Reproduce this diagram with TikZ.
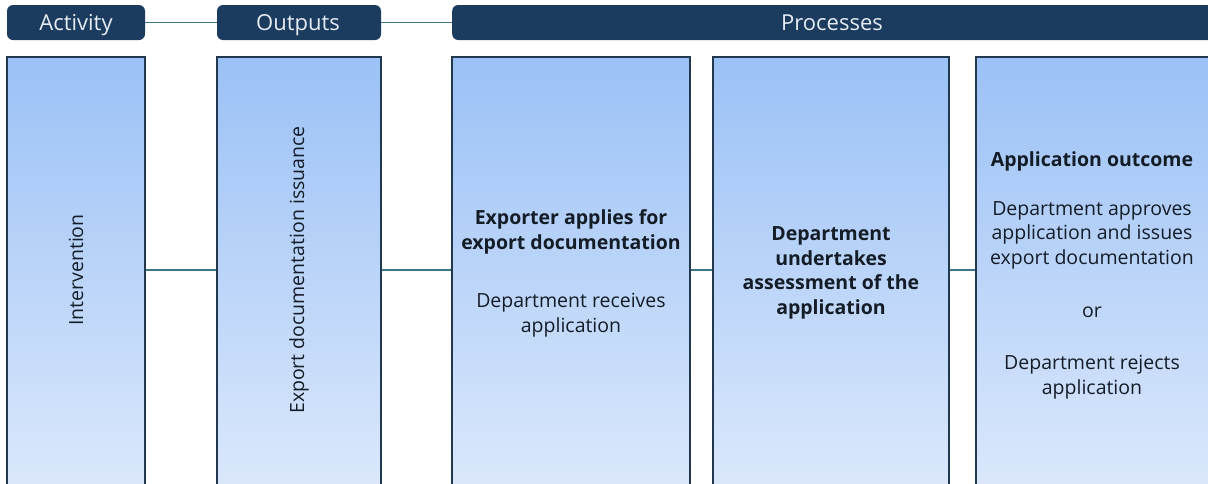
\documentclass[tikz,border=0pt]{standalone}
\usepackage{fontspec}
\setmainfont{Open Sans}
\begin{document}
\begin{tikzpicture}[x=1pt,y=-1pt,
  hdr/.style={draw=none,fill=navy,rounded corners=6pt,minimum height=35pt,inner sep=0pt},
  hdrlabel/.style={anchor=base,inner sep=0pt,text=hdrtext,font=\fontsize{22}{26}\selectfont},
  col/.style={draw=border,line width=1.5pt,top color=boxtop,bottom color=boxbot,minimum height=480pt,inner sep=0pt},
  coltext/.style={align=center,inner sep=0pt,text=txt,font=\fontsize{19.5}{24.7}\selectfont},
  link/.style={draw=linkc,line width=1.6pt}]
\definecolor{navy}{HTML}{1B3C5E}
\definecolor{hdrtext}{HTML}{E6ECF3}
\definecolor{border}{HTML}{22384E}
\definecolor{boxtop}{HTML}{9BC1F6}
\definecolor{boxbot}{HTML}{E2ECFC}
\definecolor{txt}{HTML}{141C26}
\definecolor{linkc}{HTML}{3C7686}
\useasboundingbox (0,0) rectangle (1208,483);
\clip (0,0) rectangle (1208,483);
% headers
\node[hdr,minimum width=138pt] (act) at (76,22.5) {};
\node[hdrlabel] (acttxt) at (76,30) {Activity};
\node[hdr,minimum width=164pt] (out) at (299,22.5) {};
\node[hdrlabel] (outtxt) at (298,30) {Outputs};
\node[hdr,minimum width=800pt,anchor=west] (proc) at (452,22.5) {};
\node[hdrlabel] (proctxt) at (832,30) {Processes};
\draw[link] (act.east) -- (out.west);
\draw[link] (out.east) -- (proc.west);
% columns (top at 56, running off the bottom)
\node[col,minimum width=138pt,anchor=north] (c1) at (76,56) {};
\node[coltext,rotate=90] (t1) at (76,270) {Intervention};
\node[col,minimum width=164pt,anchor=north] (c2) at (299,56) {};
\node[coltext,rotate=90] (t2) at (299,270) {Export documentation issuance};
\node[col,minimum width=238pt,anchor=north] (c3) at (571,56) {};
\node[coltext] (t3) at (571,273.5) {\textbf{Exporter applies for}\\\textbf{export documentation}\\[34pt]Department receives\\application};
\node[col,minimum width=236pt,anchor=north] (c4) at (831,56) {};
\node[coltext] (t4) at (831,273) {\textbf{Department}\\\textbf{undertakes}\\\textbf{assessment of the}\\\textbf{application}};
\node[col,minimum width=238pt,anchor=north west] (c5) at (975,56) {};
\node[coltext] (t5) at (1092,275.5) {\textbf{Application outcome}\\[23.5pt]Department approves\\application and issues\\export documentation\\[28pt]or\\[27.5pt]Department rejects\\application};
\coordinate (y) at (0,270);
\draw[link] (c1.east |- y) -- (c2.west |- y);
\draw[link] (c2.east |- y) -- (c3.west |- y);
\draw[link] (c3.east |- y) -- (c4.west |- y);
\draw[link] (c4.east |- y) -- (c5.west |- y);
\end{tikzpicture}
\end{document}
